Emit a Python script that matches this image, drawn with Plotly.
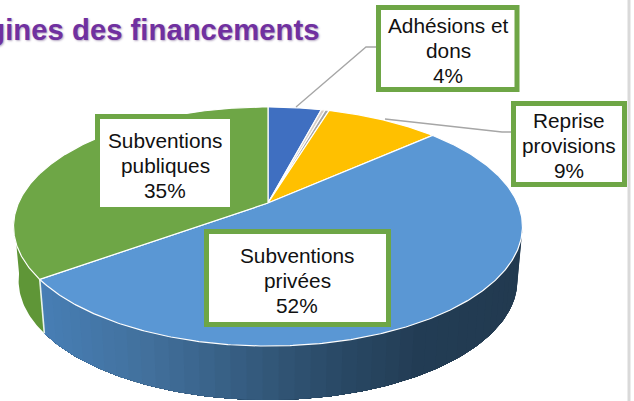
import math
import plotly.graph_objects as go

# --- data ---
title = "Origines des financements"
slice_names = ["Adhésions et dons", "Autre 1", "Autre 2", "Reprise provisions",
               "Subventions privées", "Subventions publiques"]
slice_values = [4.1, 0.3, 0.3, 8.7, 51.6, 35.0]
slice_colors = ["#3f6fc1", "#d8cfc8", "#a5a5a5", "#ffc000", "#5a97d4", "#6ea646"]
green_wall = "#5f9637"
label_lines = [
    ["Adhésions et", "dons", "4%"],
    ["Reprise", "provisions", "9%"],
    ["Subventions", "privées", "52%"],
    ["Subventions", "publiques", "35%"],
]

# --- geometry of the tilted pie (pixel space) ---
W, H = 634, 401
AX, AY = 268.0, 203.0     # projected centre
RX, RY, PERSP = 249.5, 114.9, 0.1967
DEPTH, BOTTOM_SCALE = 54.0, 0.98


def rim(deg, bottom=False):
    t = math.radians(deg)
    d = 1 + PERSP * math.cos(t)
    x = RX * math.sin(t) / d
    y = RY * math.cos(t) / d
    if bottom:
        return AX + BOTTOM_SCALE * x, AY - y + DEPTH
    return AX + x, AY - y


def arc(a, b, step=1.0):
    n = max(2, int(abs(b - a) / step) + 1)
    return [a + (b - a) * i / (n - 1) for i in range(n)]


BLUE_STOPS = [(30, (72, 128, 184)), (150, (66, 112, 156)), (300, (47, 81, 112)),
              (350, (41, 72, 100)), (420, (35, 61, 85)), (530, (34, 58, 80))]


def blue_at(x):
    for (x0, c0), (x1, c1) in zip(BLUE_STOPS, BLUE_STOPS[1:]):
        if x <= x1:
            f = max(0, (x - x0) / (x1 - x0))
            return "rgb(%d,%d,%d)" % tuple(c0[i] + (c1[i] - c0[i]) * f for i in range(3))
    return "rgb(34,58,80)"


fig = go.Figure()
total = sum(slice_values)
bounds = [0.0]
for v in slice_values:
    bounds.append(bounds[-1] + 360.0 * v / total)


def wall(a, b, color):
    pts = [rim(t) for t in arc(a, b)] + [rim(t, True) for t in arc(b, a)]
    xs = [p[0] for p in pts]
    ys = [p[1] for p in pts]
    fig.add_trace(go.Scatter(x=xs + xs[:1], y=ys + ys[:1], mode="lines", fill="toself",
                             fillcolor=color, line=dict(color="rgba(0,0,0,0)", width=0),
                             hoverinfo="skip", showlegend=False))


# side walls: each band runs to the far end of the wall so that the next one paints over it,
# which leaves no seam between bands of the gradient
priv_end = bounds[5]
ang = 100.0
while ang < priv_end:
    nxt = min(ang + 3.0, priv_end)
    wall(ang, priv_end, blue_at(rim((ang + nxt) / 2)[0]))
    ang = nxt
wall(priv_end, 262.0, green_wall)
sx, sy = zip(rim(priv_end), rim(priv_end, True))
fig.add_trace(go.Scatter(x=sx, y=sy, mode="lines", line=dict(color="#e8f2ea", width=1.6),
                         hoverinfo="skip", showlegend=False))

# top face slices
for i, (name, color) in enumerate(zip(slice_names, slice_colors)):
    pts = [rim(t) for t in arc(bounds[i], bounds[i + 1], 0.5)]
    xs = [AX] + [p[0] for p in pts] + [AX]
    ys = [AY] + [p[1] for p in pts] + [AY]
    fig.add_trace(go.Scatter(x=xs, y=ys, mode="lines", fill="toself", fillcolor=color,
                             line=dict(color="white", width=1.2), name=name,
                             hoverinfo="skip", showlegend=False))

# leader lines
fig.add_trace(go.Scatter(x=[296, 366, 376], y=[107, 47, 47], mode="lines",
                         line=dict(color="#a6a6a6", width=1.3), hoverinfo="skip", showlegend=False))
fig.add_trace(go.Scatter(x=[385, 502, 511], y=[119, 132, 132], mode="lines",
                         line=dict(color="#a6a6a6", width=1.3), hoverinfo="skip", showlegend=False))

# label boxes: x0, y0, x1, y1 of the border centre line
boxes = [(378.5, 7.5, 517, 89.5), (513.5, 103.5, 624.5, 184.5),
         (206.5, 231.5, 388.5, 324.5), (97.5, 116.5, 232.5, 209.5)]
centers = [(448, 25), (569, 120), (297, 255), (165, 140)]
shapes = [dict(type="rect", x0=b[0], y0=b[1], x1=b[2], y1=b[3], xref="x", yref="y",
               fillcolor="white", line=dict(color="#6ea646", width=5), layer="above")
          for b in boxes]
shapes.append(dict(type="line", x0=629, x1=629, y0=0, y1=H, xref="x", yref="y",
                   line=dict(color="#d9d9d9", width=3), layer="above"))

annotations = []
for (cx, cy), lines in zip(centers, label_lines):
    for j, line in enumerate(lines):
        annotations.append(dict(x=cx, y=cy + 25 * j, xref="x", yref="y", text=line, showarrow=False,
                                xanchor="center", yanchor="middle",
                                font=dict(family="Liberation Sans, Arial, sans-serif", size=20.8, color="#111111")))
annotations.append(dict(x=321, y=29, xref="x", yref="y", text="<b>%s</b>" % title, showarrow=False,
                        xanchor="right", yanchor="middle",
                        font=dict(family="Liberation Sans, Arial, sans-serif", size=29.3, color="#7030a0",
                                  shadow="1px 1px 2px rgba(90,60,120,0.45)")))

fig.update_layout(
    width=W, height=H, margin=dict(l=0, r=0, t=0, b=0), autosize=False,
    paper_bgcolor="white", plot_bgcolor="white", showlegend=False,
    xaxis=dict(range=[0, W], visible=False, fixedrange=True),
    yaxis=dict(range=[H, 0], visible=False, fixedrange=True),
    shapes=shapes, annotations=annotations,
)
fig.write_html("out.html", config={"displayModeBar": False},
               post_script="document.body.style.margin='0';document.body.style.overflow='hidden';")
